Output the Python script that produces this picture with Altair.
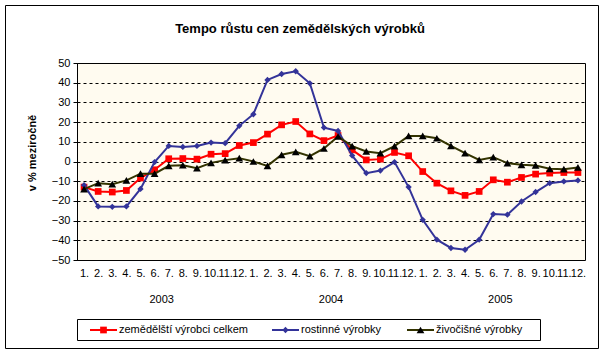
import altair as alt
import pandas as pd

years = [2003, 2004, 2005]
months = list(range(1, 13))
series_names = ["zemědělští výrobci celkem", "rostinné výrobky", "živočišné výrobky"]

celkem = [-13.0, -15.2, -15.5, -14.7, -8.4, -4.2, 1.4, 1.5, 1.2, 3.7, 4.0, 8.1,
          9.6, 13.9, 18.6, 20.3, 14.0, 10.6, 13.2, 5.9, 0.8, 1.2, 4.6, 2.9,
          -5.1, -11.0, -14.9, -17.2, -15.2, -9.3, -10.5, -8.1, -6.4, -5.9, -5.6, -5.6]
rostlinne = [-12.0, -22.8, -23.0, -22.8, -13.9, -0.3, 7.9, 7.4, 7.9, 9.6, 9.3, 18.1,
             24.0, 41.4, 44.4, 45.8, 39.7, 17.2, 15.5, 3.0, -5.9, -4.6, -0.3, -13.0,
             -29.6, -39.7, -43.9, -44.8, -39.7, -26.7, -27.0, -20.3, -15.5, -11.0, -10.1, -9.6]
zivocisne = [-14.0, -11.0, -11.5, -9.6, -6.2, -6.2, -2.2, -1.9, -3.4, -0.7, 0.7, 1.7,
             0.0, -2.2, 3.4, 4.9, 2.7, 6.6, 12.7, 7.8, 5.1, 4.2, 7.8, 13.0,
             13.0, 11.8, 7.9, 4.2, 0.8, 2.2, -0.8, -1.7, -2.0, -3.7, -3.9, -3.0]

title_text = "Tempo růstu cen zemědělských výrobků"
y_title_text = "v % meziročně"

line_colors = ["#FF0000", "#333399", "#333300"]
marker_colors = ["#FF0000", "#333399", "#000000"]
shapes = ["square", "diamond", "triangle-up"]
marker_sizes = [45, 40, 60]

FONT = "Liberation Sans"
W, H = 508, 197

n_months = len(years) * len(months)
x_scale = alt.Scale(domain=[-0.5, n_months - 0.5], nice=False, zero=False)
y_scale = alt.Scale(domain=[-50, 50], nice=False)

x_axis = alt.Axis(values=list(range(n_months)),
                  labelExpr="(datum.value % 12 + 1) + '.'",
                  ticks=False, domain=False, grid=False, labelFontSize=11,
                  labelPadding=7, labelOverlap=False, labelBound=False,
                  labelFlush=False, title=None, labelColor="black", labelFont=FONT)
y_axis = alt.Axis(values=list(range(-50, 51, 10)), grid=True, gridDash=[3, 3],
                  gridColor="black", gridOpacity=1, gridWidth=1, tickSize=4,
                  tickColor="black", domain=True, domainColor="black", labelPadding=3,
                  title=None, labelFontSize=11, labelColor="black", labelFont=FONT)

X = lambda: alt.X("idx:Q", scale=x_scale, axis=x_axis)
Y = lambda: alt.Y("value:Q", scale=y_scale, axis=y_axis)

layers = []
for k, (name, vals) in enumerate(zip(series_names, [celkem, rostlinne, zivocisne])):
    d = pd.DataFrame({"idx": list(range(n_months)), "value": vals, "serie": name})
    base = alt.Chart(d)
    layers.append(base.mark_line(color=line_colors[k], strokeWidth=2).encode(x=X(), y=Y()))
    layers.append(base.mark_point(shape=shapes[k], filled=True, color=marker_colors[k],
                                  size=marker_sizes[k], opacity=1).encode(x=X(), y=Y()))

# year labels under month labels
year_df = pd.DataFrame({"year": [str(y) for y in years],
                        "idx": [i * 12 + 5.5 for i in range(len(years))]})
layers.append(alt.Chart(year_df).mark_text(fontSize=11, font=FONT, color="black",
                                           baseline="middle").encode(
    x=X(), y=alt.value(237), text="year:N"))

# title
layers.append(alt.Chart(pd.DataFrame({"t": [title_text]})).mark_text(
    fontSize=13, fontWeight="bold", font=FONT, color="black", baseline="middle").encode(
    x=alt.value(223), y=alt.value(-34), text="t:N"))

# y axis title
layers.append(alt.Chart(pd.DataFrame({"t": [y_title_text]})).mark_text(
    fontSize=11, fontWeight="bold", font=FONT, color="black", angle=270,
    baseline="middle").encode(x=alt.value(-44), y=alt.value(90), text="t:N"))

# legend box
layers.append(alt.Chart(pd.DataFrame({"a": [0]})).mark_rect(
    fill="white", stroke="black", strokeWidth=1).encode(
    x=alt.value(0.5), x2=alt.value(463.5), y=alt.value(256.5), y2=alt.value(277.5)))

leg_x = [13, 195, 330]
leg_y = 267
for k, name in enumerate(series_names):
    one = pd.DataFrame({"t": [name]})
    layers.append(alt.Chart(one).mark_rule(color=line_colors[k], strokeWidth=2).encode(
        x=alt.value(leg_x[k]), x2=alt.value(leg_x[k] + 27), y=alt.value(leg_y)))
    layers.append(alt.Chart(one).mark_point(shape=shapes[k], filled=True,
                                            color=marker_colors[k], size=marker_sizes[k],
                                            opacity=1).encode(
        x=alt.value(leg_x[k] + 13.5), y=alt.value(leg_y)))
    layers.append(alt.Chart(one).mark_text(align="left", baseline="middle", fontSize=11,
                                           font=FONT, color="black").encode(
        x=alt.value(leg_x[k] + 29), y=alt.value(leg_y), text="t:N"))

# outer chart border
layers.append(alt.Chart(pd.DataFrame({"a": [0]})).mark_rect(
    fillOpacity=0, stroke="black", strokeWidth=1).encode(
    x=alt.value(-71.5), x2=alt.value(521.5), y=alt.value(-57.5), y2=alt.value(285.5)))

chart = alt.layer(*layers).properties(
    width=W, height=H,
    autosize=alt.AutoSizeParams(type="none"),
    padding={"left": 77, "top": 63, "right": 19, "bottom": 94},
    background="white",
).configure_view(stroke="black", strokeWidth=1, fill="#FFFBF0")

chart.save("out.html", embed_options={"renderer": "svg", "actions": False})
